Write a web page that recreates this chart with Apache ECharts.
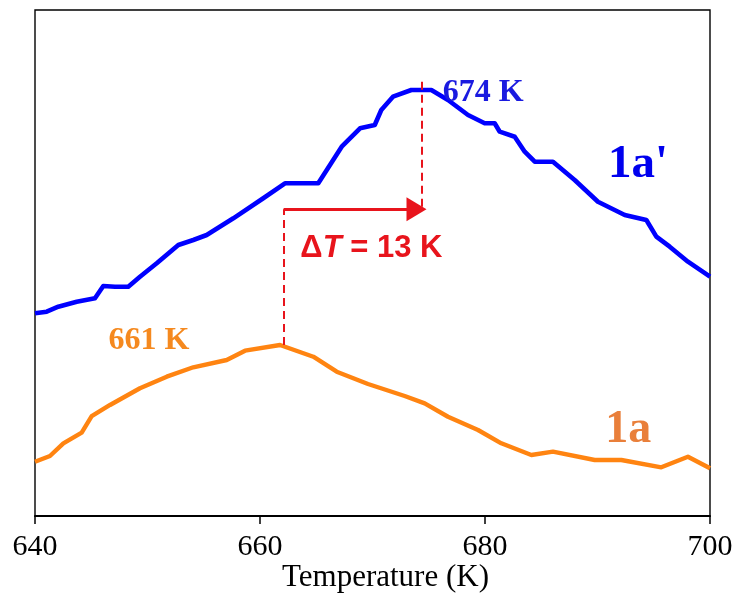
<!DOCTYPE html>
<html>
<head>
<meta charset="utf-8">
<title>Temperature (K)</title>
<script src="https://cdn.jsdelivr.net/npm/echarts@6/dist/echarts.min.js"></script>
<style>
  html, body { margin: 0; padding: 0; background: #ffffff; }
  #chart { width: 738px; height: 595px; }
</style>
</head>
<body>
<div id="chart"></div>
<script>
// Sample 1a' (blue): temperature (K) and signal (arb. units)
const tempB = [640.0, 641.04, 642.07, 643.71, 645.33, 646.07, 647.11, 648.29, 649.33, 650.82,
  652.74, 654.07, 655.26, 657.63, 660.29, 662.22, 665.18, 667.26, 668.89, 670.2,
  670.78, 671.82, 673.45, 675.23, 676.71, 678.49, 679.97, 680.86, 681.31, 682.64,
  683.53, 684.42, 686.04, 687.97, 690.04, 692.42, 694.34, 695.23, 696.42, 698.04, 700.0];
const signalB = [40.06, 40.38, 41.36, 42.35, 43.02, 45.45, 45.32, 45.32, 47.29, 49.94,
  53.56, 54.55, 55.53, 58.83, 62.79, 65.75, 65.75, 72.98, 76.62, 77.27,
  80.24, 82.87, 84.19, 84.19, 82.21, 79.25, 77.61, 77.61, 75.95, 74.96,
  72.0, 70.02, 70.02, 66.4, 62.11, 59.49, 58.5, 55.2, 53.22, 50.26, 47.29];

// Sample 1a (orange)
const tempA = [640.0, 641.33, 642.52, 644.15, 645.04, 646.67, 649.33, 651.71, 654.07, 657.04,
  658.67, 661.78, 664.74, 666.82, 669.6, 672.86, 674.64, 676.71, 679.38, 681.45,
  684.12, 686.04, 689.75, 692.12, 695.67, 698.04, 700.0];
const signalA = [10.73, 11.86, 14.37, 16.46, 19.76, 21.94, 25.24, 27.53, 29.39, 30.83,
  32.67, 33.79, 31.48, 28.52, 26.09, 23.72, 22.27, 19.62, 17.0, 14.37,
  12.06, 12.71, 11.07, 11.07, 9.62, 11.72, 9.43];

// Axis ticks
const xTicks = [640, 660, 680, 700];

// Peak markers and the shift arrow
const peakA = 662.1, peakAY = 33.79;
const peakB = 674.4, peakBTopY = 85.8;
const arrowY = 60.6, arrowTip = 674.8;

const zip = (xs, ys) => xs.map((x, i) => [x, ys[i]]);

const chart = echarts.init(document.getElementById('chart'), null, { renderer: 'canvas' });

const serif = "'Liberation Serif', 'Times New Roman', serif";
const sans = "'Liberation Sans', Arial, sans-serif";
const red = '#E8141C';
const headLen = 20;   // arrowhead length in px

chart.setOption({
  animation: false,
  backgroundColor: '#ffffff',
  grid: {
    left: 35, right: 28, top: 10, bottom: 79,
    containLabel: false,
    outerBoundsMode: 'none',
    show: true, borderColor: '#000000', borderWidth: 1.4, backgroundColor: 'transparent'
  },
  xAxis: {
    type: 'value',
    min: xTicks[0], max: xTicks[xTicks.length - 1], interval: 20,
    name: 'Temperature (K)',
    nameLocation: 'middle',
    nameGap: 46,
    nameMoveOverlap: false,
    nameTextStyle: { fontFamily: serif, fontSize: 31, color: '#000000', padding: [0, 0, 0, 26] },
    axisLine: { show: true, lineStyle: { color: '#000000', width: 2 } },
    axisTick: { show: true, inside: false, length: 8, lineStyle: { color: '#000000', width: 1.5 } },
    axisLabel: { fontFamily: serif, fontSize: 30, color: '#000000', margin: 16 },
    splitLine: { show: false }
  },
  yAxis: {
    type: 'value', min: 0, max: 100,
    axisLine: { show: false }, axisTick: { show: false },
    axisLabel: { show: false }, splitLine: { show: false }
  },
  series: [
    {
      name: "1a'",
      type: 'line',
      data: zip(tempB, signalB),
      showSymbol: false,
      lineStyle: { color: '#0000FF', width: 4.6, join: 'round' },
      z: 3,
      markLine: {
        silent: true,
        symbol: ['none', 'none'],
        label: { show: false },
        lineStyle: { color: red, width: 2, type: [8, 5] },
        data: [
          [{ coord: [peakB, peakBTopY] }, { coord: [peakB, arrowY + 0.4] }]
        ]
      },
      markPoint: {
        silent: true,
        symbol: 'circle', symbolSize: 1,
        itemStyle: { color: 'rgba(0,0,0,0)' },
        data: [
          {
            coord: [679.85, 83.6],
            label: { show: true, position: 'inside', formatter: '674 K',
              fontFamily: serif, fontWeight: 'bold', fontSize: 32, color: '#1A1AE0' }
          },
          {
            coord: [693.6, 69.3],
            label: { show: true, position: 'inside', formatter: "1a'",
              fontFamily: serif, fontWeight: 'bold', fontSize: 47, color: '#0000EE' }
          }
        ]
      }
    },
    {
      name: '1a',
      type: 'line',
      data: zip(tempA, signalA),
      showSymbol: false,
      lineStyle: { color: '#FF8411', width: 4.4, join: 'round' },
      z: 3,
      markLine: {
        silent: true,
        label: { show: false },
        data: [
          [
            { coord: [peakA, peakAY], symbol: 'none', lineStyle: { color: red, width: 2, type: [8, 5] } },
            { coord: [peakA, arrowY], symbol: 'none' }
          ],
          [
            { coord: [peakA, arrowY], symbol: 'none', lineStyle: { color: red, width: 3, type: 'solid' } },
            // the head is centred on the end point, so pull it back by half its length
            { coord: [arrowTip - (headLen / 2) / 11.25, arrowY], symbol: 'triangle', symbolSize: [24, headLen] }
          ]
        ]
      },
      markPoint: {
        silent: true,
        symbol: 'circle', symbolSize: 1,
        itemStyle: { color: 'rgba(0,0,0,0)' },
        data: [
          {
            coord: [650.12, 34.6],
            label: { show: true, position: 'inside', formatter: '661 K',
              fontFamily: serif, fontWeight: 'bold', fontSize: 32, color: '#F5891F' }
          },
          {
            coord: [692.74, 17.0],
            label: { show: true, position: 'inside', formatter: '1a',
              fontFamily: serif, fontWeight: 'bold', fontSize: 46, color: '#E97F3A' }
          },
          {
            coord: [669.9, 52.8],
            label: {
              show: true, position: 'inside',
              formatter: '{a|\u0394}{b|T}{a| = 13 K}',
              rich: {
                a: { fontFamily: sans, fontWeight: 'bold', fontSize: 31, color: red },
                b: { fontFamily: sans, fontWeight: 'bold', fontStyle: 'italic', fontSize: 31, color: red }
              }
            }
          }
        ]
      }
    }
  ]
});
</script>
</body>
</html>
